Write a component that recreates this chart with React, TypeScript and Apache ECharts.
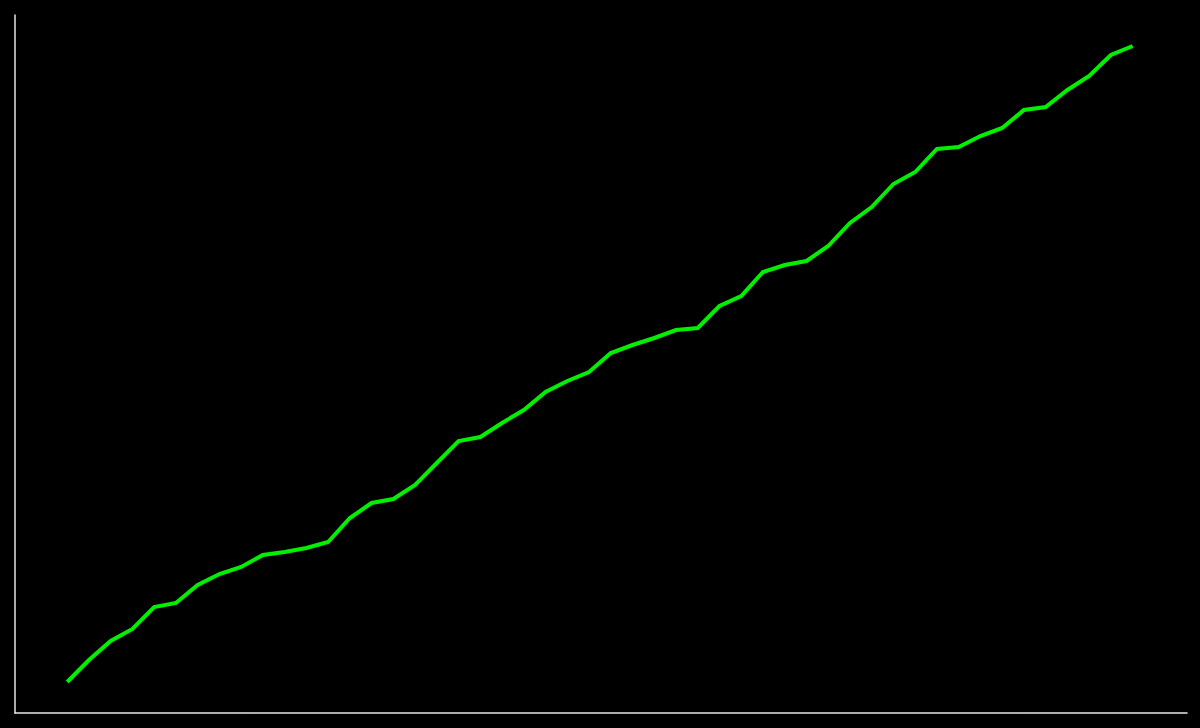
import { useEffect, useRef } from "react";
import * as echarts from "echarts";

// x positions (sample index) and values (axis units 0..698)
const steps: number[] = Array.from({ length: 50 }, (_, i) => i);
const values: number[] = [
  31, 53, 72, 84, 106, 110, 128, 139, 146, 158,
  161, 165, 171, 195, 210, 214, 228, 250, 272, 276,
  290, 303, 321, 332, 341, 360, 368, 375, 383, 385,
  407, 417, 441, 448, 452, 467, 490, 506, 529, 541,
  564, 566, 577, 585, 603, 606, 623, 637, 658, 667,
];

export default function App() {
  const chartRef = useRef<HTMLDivElement>(null);

  useEffect(() => {
    document.body.style.margin = "0";
    document.body.style.background = "#000";
    if (!chartRef.current) return;
    const chart = echarts.init(chartRef.current, null, { renderer: "svg" });

    chart.setOption({
      animation: false,
      backgroundColor: "#000",
      grid: { left: 15, right: 13, top: 15, bottom: 15, containLabel: false },
      xAxis: {
        type: "value",
        min: -2.4,
        max: 51.5,
        axisLine: { show: true, onZero: false, lineStyle: { color: "#e6e6e6", width: 1.5 } },
        axisTick: { show: false },
        axisLabel: { show: false },
        splitLine: { show: false },
      },
      yAxis: {
        type: "value",
        min: 0,
        max: 698,
        axisLine: { show: true, onZero: false, lineStyle: { color: "#e6e6e6", width: 1.5 } },
        axisTick: { show: false },
        axisLabel: { show: false },
        splitLine: { show: false },
      },
      series: [
        {
          type: "line",
          data: steps.map((s, i) => [s, values[i]]),
          showSymbol: false,
          lineStyle: { color: "#00f000", width: 4, cap: "butt", join: "miter" },
        },
      ],
    });

    return () => {
      chart.dispose();
    };
  }, []);

  return <div ref={chartRef} style={{ width: 1200, height: 728 }} />;
}
